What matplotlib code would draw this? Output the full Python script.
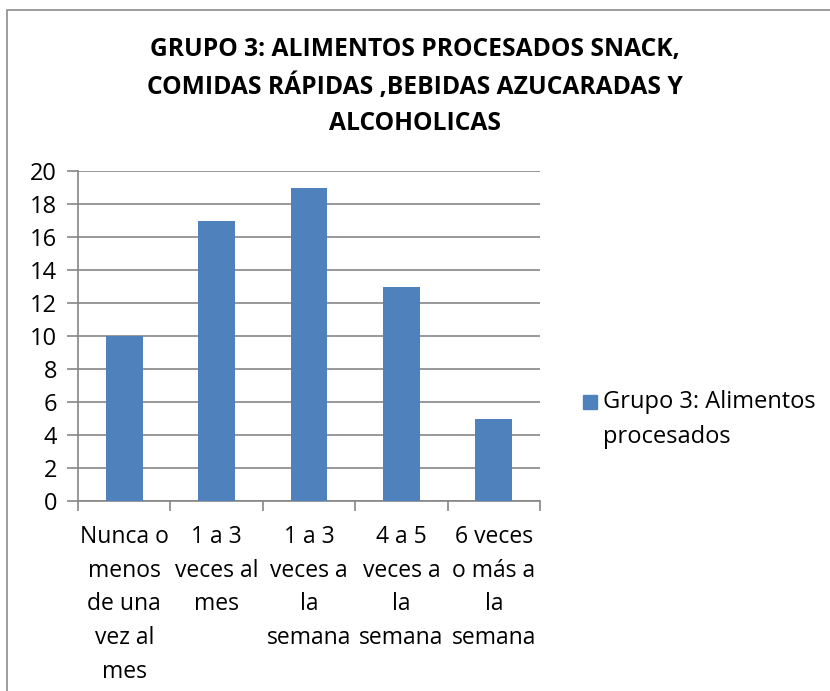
import matplotlib
matplotlib.use('Agg')

import matplotlib.pyplot as plt
from matplotlib.patches import Rectangle

plt.rcParams['font.family'] = ['Open Sans', 'DejaVu Sans']

title = u'GRUPO 3: ALIMENTOS PROCESADOS SNACK,\nCOMIDAS RÁPIDAS ,BEBIDAS AZUCARADAS Y\nALCOHOLICAS'
categories = [
    u'Nunca o\nmenos\nde una\nvez al\nmes',
    u'1 a 3\nveces al\nmes',
    u'1 a 3\nveces a\nla\nsemana',
    u'4 a 5\nveces a\nla\nsemana',
    u'6 veces\no más a\nla\nsemana',
]
values = [10, 17, 19, 13, 5]
series_name = u'Grupo 3: Alimentos\nprocesados'
y_ticks = list(range(0, 21, 2))

W, H = 830, 691
bar_color = '#4F81BD'
grid_color = '#868686'

fig = plt.figure(figsize=(W / 100, H / 100), dpi=100)

# outer chart frame
fig.patches.append(Rectangle((7 / W, -0.05), 1.2, (H - 10) / H + 0.05,
                             transform=fig.transFigure, fill=False,
                             edgecolor='#8c8c8c', linewidth=1.2))

ax = fig.add_axes([78 / W, (H - 501) / H, 462 / W, 330 / H])

x = list(range(len(categories)))
bars = ax.bar(x, values, width=0.4, color=bar_color, zorder=3, label=series_name)

ax.set_xlim(-0.5, len(categories) - 0.5)
ax.set_ylim(0, 20)
ax.set_yticks(y_ticks)
ax.yaxis.grid(True, color=grid_color, linewidth=1.2, zorder=0)

for side in ['top', 'right']:
    ax.spines[side].set_visible(False)
for side in ['left', 'bottom']:
    ax.spines[side].set_color(grid_color)
    ax.spines[side].set_linewidth(1.2)

ax.tick_params(axis='y', length=8, width=1.2, color=grid_color, labelsize=17, pad=7)

# ticks between categories, labels centred under bars
ax.set_xticks([i - 0.5 for i in range(len(categories) + 1)])
ax.set_xticklabels([])
ax.tick_params(axis='x', which='major', length=7, width=1.2, color=grid_color)
ax.set_xticks(x, minor=True)
ax.set_xticklabels(categories, minor=True, fontsize=16.5, linespacing=1.55,
                   ha='center', multialignment='center')
ax.tick_params(axis='x', which='minor', length=0, pad=17)

fig.text(0.5, (H - 37) / H, title, ha='center', va='top', fontsize=17.7,
         fontweight='bold', linespacing=1.57)

# legend drawn as a square marker plus wrapped label
fig.patches.append(Rectangle((583 / W, (H - 409) / H), 14 / W, 14 / H,
                             transform=fig.transFigure, color=bar_color))
fig.text(603 / W, (H - 390) / H, series_name, ha='left', va='top',
         fontsize=17, linespacing=1.62)

fig.savefig('out.png', dpi=100)
